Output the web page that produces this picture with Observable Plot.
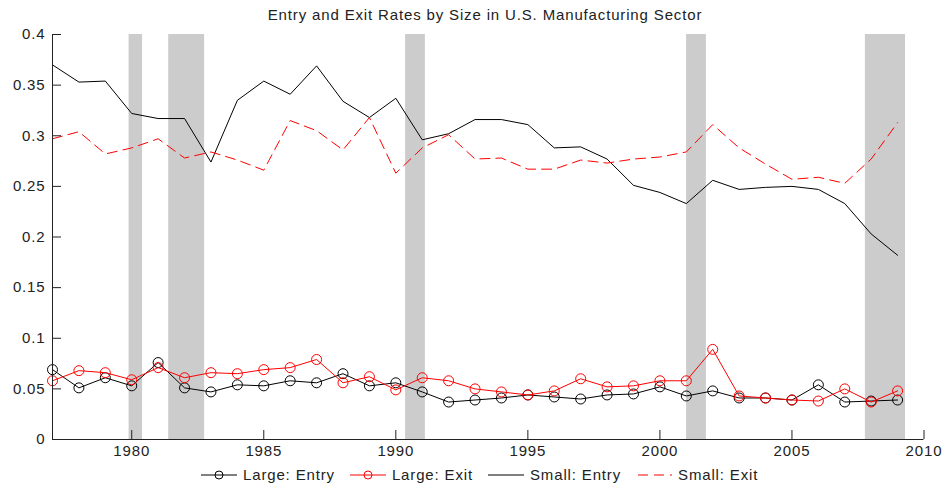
<!DOCTYPE html>
<html>
<head>
<meta charset="utf-8">
<script src="https://cdn.jsdelivr.net/npm/d3@7"></script>
<script src="https://cdn.jsdelivr.net/npm/@observablehq/plot@0.6"></script>
<style>
  body { margin: 0; background: #fff; font-family: "Liberation Sans", Arial, sans-serif; }
  #wrap { position: relative; width: 945px; height: 487px; overflow: hidden; }
  #title { box-sizing: border-box; width: 945px; height: 28px; line-height: 30px; padding-left: 25px;
           text-align: center; font-size: 15px; letter-spacing: 0.85px; color: #222; white-space: nowrap; }
  #chart { height: 435px; }
  #legend { position: relative; height: 24px; line-height: 24px; font-size: 15px; letter-spacing: 0.85px;
            color: #222; white-space: nowrap; display: flex; align-items: center; padding-left: 200px; }
  .item { display: flex; align-items: center; margin-right: 14px; }
  .item svg { margin-right: 5px; }
</style>
</head>
<body>
<div id="wrap">
  <div id="title">Entry and Exit Rates by Size in U.S. Manufacturing Sector</div>
  <div id="chart"></div>
  <div id="legend"></div>
</div>
<script>
// ---- data ----
const years = [1977,1978,1979,1980,1981,1982,1983,1984,1985,1986,1987,1988,1989,1990,1991,1992,1993,1994,1995,1996,1997,1998,1999,2000,2001,2002,2003,2004,2005,2006,2007,2008,2009];
const largeEntry = [0.069,0.051,0.061,0.053,0.076,0.051,0.047,0.054,0.053,0.058,0.056,0.065,0.053,0.056,0.047,0.037,0.039,0.041,0.044,0.042,0.040,0.044,0.045,0.052,0.043,0.048,0.041,0.041,0.039,0.054,0.037,0.038,0.039];
const largeExit  = [0.058,0.068,0.066,0.059,0.071,0.061,0.066,0.065,0.069,0.071,0.079,0.056,0.062,0.049,0.061,0.058,0.050,0.047,0.044,0.048,0.060,0.052,0.053,0.058,0.058,0.089,0.043,0.041,0.039,0.038,0.050,0.037,0.048];
const smallEntry = [0.370,0.353,0.354,0.322,0.317,0.317,0.274,0.335,0.354,0.341,0.369,0.334,0.318,0.337,0.296,0.302,0.316,0.316,0.311,0.288,0.289,0.277,0.251,0.244,0.233,0.256,0.247,0.249,0.250,0.247,0.233,0.203,0.182];
const smallExit  = [0.297,0.304,0.282,0.288,0.297,0.278,0.284,0.276,0.266,0.315,0.305,0.286,0.318,0.263,0.288,0.301,0.277,0.278,0.267,0.267,0.276,0.273,0.277,0.279,0.284,0.311,0.288,0.272,0.257,0.259,0.253,0.277,0.313];
const recessionStart = [1979.9, 1981.4, 1990.37, 2001.01, 2007.78];
const recessionEnd   = [1980.41, 1982.76, 1991.12, 2001.76, 2009.3];
const xDomain = [1977, 2010];
const yDomain = [0, 0.4];
const xTickValues = [1980, 1985, 1990, 1995, 2000, 2005, 2010];
const yTickValues = [0, 0.05, 0.1, 0.15, 0.2, 0.25, 0.3, 0.35, 0.4];
const yTickLabels = ["0", "0.05", "0.1", "0.15", "0.2", "0.25", "0.3", "0.35", "0.4"];
const seriesNames = ["Large: Entry", "Large: Exit", "Small: Entry", "Small: Exit"];

// ---- build tables ----
const toRows = vals => years.map((year, i) => ({year, value: vals[i]}));
const rowsLE = toRows(largeEntry), rowsLX = toRows(largeExit);
const rowsSE = toRows(smallEntry), rowsSX = toRows(smallExit);
const recessions = recessionStart.map((s, i) => ({start: s, end: recessionEnd[i]}));

const W = 945, H = 435, mL = 52, mR = 21.5, mT = 6, mB = 24;
const plotW = W - mL - mR, plotH = H - mT - mB;
const axisColor = "#222";
const red = "#ff0000", black = "#000000";

const chart = Plot.plot({
  width: W, height: H,
  marginLeft: mL, marginRight: mR, marginTop: mT, marginBottom: mB,
  x: {domain: xDomain, label: null},
  y: {domain: yDomain, label: null},
  style: {fontFamily: '"Liberation Sans", Arial, sans-serif', fontSize: "15px", letterSpacing: "0.85px", color: axisColor, background: "#fff", overflow: "visible"},
  marks: [
    Plot.rect(recessions, {x1: "start", x2: "end", fill: "#cccccc"}),
    Plot.line(rowsLE, {x: "year", y: "value", stroke: black, strokeWidth: 1}),
    Plot.dot(rowsLE, {x: "year", y: "value", r: 5, stroke: black, fill: "none", strokeWidth: 1}),
    Plot.line(rowsLX, {x: "year", y: "value", stroke: red, strokeWidth: 1}),
    Plot.dot(rowsLX, {x: "year", y: "value", r: 5, stroke: red, fill: "none", strokeWidth: 1}),
    Plot.line(rowsSE, {x: "year", y: "value", stroke: black, strokeWidth: 1}),
    Plot.line(rowsSX, {x: "year", y: "value", stroke: red, strokeWidth: 1, strokeDasharray: "10,6"}),
    Plot.ruleX([xDomain[0]], {stroke: axisColor}),
    Plot.ruleY([yDomain[0]], {stroke: axisColor}),
    Plot.tickX(xTickValues, {x: d => d, insetTop: plotH - 9, stroke: axisColor}),
    Plot.tickY(yTickValues, {y: d => d, insetRight: plotW - 9, stroke: axisColor}),
    Plot.axisX(xTickValues, {tickSize: 0, tickPadding: 6, tickFormat: d => String(d), fill: axisColor}),
    Plot.axisY(yTickValues, {tickSize: 0, tickPadding: 7, tickFormat: (d, i) => yTickLabels[yTickValues.indexOf(d)], fill: axisColor})
  ]
});
document.getElementById("chart").appendChild(chart);

// ---- legend ----
const legend = document.getElementById("legend");
const specs = [
  {color: black, dash: null, circle: true},
  {color: red, dash: null, circle: true},
  {color: black, dash: null, circle: false},
  {color: red, dash: "10,6", circle: false}
];
seriesNames.forEach((name, i) => {
  const s = specs[i];
  const item = document.createElement("div");
  item.className = "item";
  const sw = 38;
  item.innerHTML = `<svg width="${sw}" height="14" viewBox="0 0 ${sw} 14">
    <line x1="1" x2="${sw - 1}" y1="7" y2="7" stroke="${s.color}" stroke-width="1" ${s.dash ? `stroke-dasharray="${s.dash}" stroke-dashoffset="-2"` : ""}/>
    ${s.circle ? `<circle cx="${sw / 2}" cy="7" r="4" fill="#fff" stroke="${s.color}" stroke-width="1"/><line x1="${sw/2-4}" x2="${sw/2+4}" y1="7" y2="7" stroke="${s.color}" stroke-width="1"/>` : ""}
  </svg><span>${name}</span>`;
  legend.appendChild(item);
});
</script>
</body>
</html>
